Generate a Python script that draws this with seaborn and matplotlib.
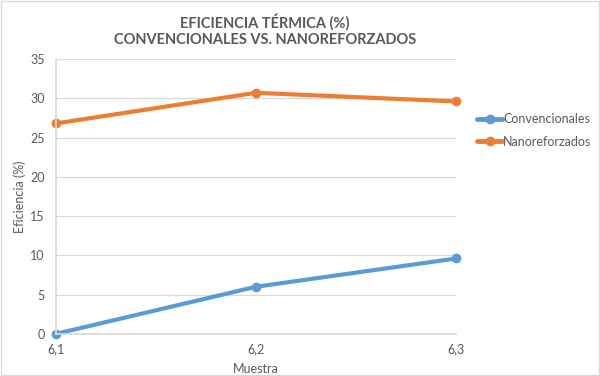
import numpy as np
import pandas as pd
import matplotlib.pyplot as plt
import seaborn as sns

# Datos
muestra = [6.1, 6.2, 6.3]
convencionales = [0.0, 6.0, 9.6]
nanoreforzados = [26.8, 30.7, 29.6]

df = pd.DataFrame({
    'Muestra': muestra * 2,
    'Eficiencia': convencionales + nanoreforzados,
    'Serie': ['Convencionales'] * 3 + ['Nanoreforzados'] * 3,
})

sns.set_theme(style='white')
plt.rcParams['font.family'] = ['Lato', 'DejaVu Sans']

gris = '#595959'
colores = {'Convencionales': '#5B9BD5', 'Nanoreforzados': '#ED7D31'}

fig = plt.figure(figsize=(6, 3.76), dpi=100)
ax = fig.add_axes([0.093, 0.112, 0.667, 0.731])

sns.lineplot(data=df, x='Muestra', y='Eficiencia', hue='Serie', palette=colores,
             marker='o', markersize=7, markeredgewidth=0, linewidth=3, ax=ax)

ax.set_xlim(6.1, 6.3)
ax.set_ylim(0, 35)
ax.set_yticks(range(0, 36, 5))
ax.set_xticks(muestra)
ax.set_xticklabels([f'{m:.1f}'.replace('.', ',') for m in muestra])
ax.tick_params(axis='y', colors=gris, labelsize=9, length=0, pad=8)
ax.tick_params(axis='x', colors=gris, labelsize=9, length=0, pad=7)
ax.grid(axis='y', color='#d9d9d9', linewidth=0.9)
for s in ['top', 'right']:
    ax.spines[s].set_visible(False)
ax.spines['left'].set_color('#d9d9d9')
ax.spines['bottom'].set_color('#d9d9d9')
for line in ax.lines:
    line.set_clip_on(False)

ax.set_xlabel('Muestra', color=gris, fontsize=9, labelpad=5)
ax.set_ylabel('Eficiencia (%)', color=gris, fontsize=9, labelpad=3)

fig.suptitle('EFICIENCIA TÉRMICA (%)\nCONVENCIONALES VS. NANOREFORZADOS',
             x=0.442, y=0.965, color=gris, fontsize=10.5, fontweight='bold', linespacing=1.3)

leg = ax.legend(loc='upper left', bbox_to_anchor=(1.025, 0.845), frameon=False,
                fontsize=9, handlelength=2.0, handletextpad=0.05, labelspacing=0.85)
for t in leg.get_texts():
    t.set_color(gris)
for h in leg.get_lines():
    h.set_linewidth(3.5)

fig.patches.append(plt.Rectangle((0.002, 0.003), 0.996, 0.994, transform=fig.transFigure,
                                 fill=False, edgecolor='#d9d9d9', linewidth=1))

fig.savefig('out.png', dpi=100)
